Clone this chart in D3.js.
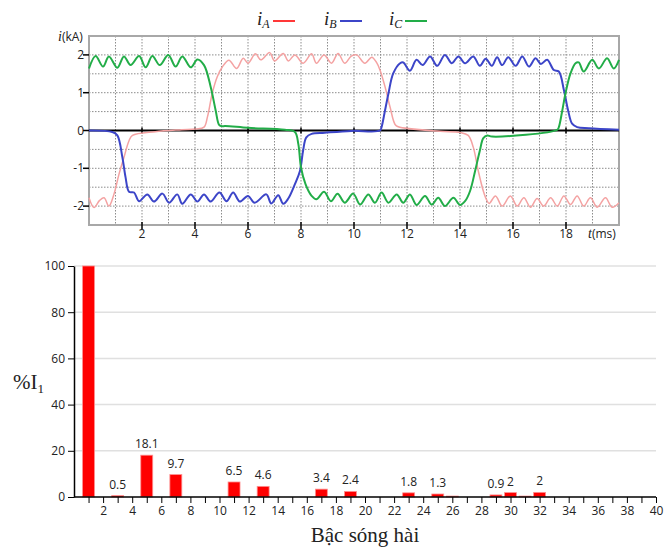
<!DOCTYPE html>
<meta charset="utf-8">
<style>
  body { margin: 0; background: #fff; }
  text { font-family: "Open Sans", sans-serif; fill: #222; }
  .serif { font-family: "Liberation Serif", "DejaVu Serif", serif; }
</style>
<svg width="665" height="547"></svg>
<script src="https://d3js.org/d3.v7.min.js"></script>
<script>

// phase currents, [t (ms), i (kA)]
var iA = [[0,-1.78],[0.19,-2.04],[0.4,-1.85],[0.57,-1.78],[0.75,-2.0],[0.94,-1.69],[1.13,-1.16],[1.32,-0.71],[1.51,-0.27],[1.64,-0.13],
  [2.5,-0.03],[3.5,0.02],[4.03,0.04],[4.34,0.09],[4.47,0.36],[4.65,0.98],[4.84,1.42],[5.03,1.68],[5.28,1.86],[5.57,1.64],
  [5.82,1.91],[6.0,1.78],[6.28,2.03],[6.48,1.87],[6.82,2.06],[7.0,1.84],[7.33,2.04],[7.52,1.84],[7.77,2.0],[8.08,1.78],
  [8.4,2.03],[8.58,1.78],[8.87,2.0],[9.15,1.78],[9.4,2.04],[9.65,1.78],[9.9,1.97],[10.1,2.0],[10.41,1.78],[10.67,1.94],
  [10.85,1.8],[10.98,1.6],[11.17,1.16],[11.36,0.62],[11.55,0.16],[11.67,0.1],[13.25,-0.02],[14.0,-0.05],[14.31,-0.13],
  [14.5,-0.44],[14.69,-1.07],[14.88,-1.6],[15.0,-1.83],[15.1,-1.93],[15.34,-1.73],[15.59,-2.0],[15.9,-1.73],[16.16,-2.0],
  [16.41,-1.78],[16.66,-2.03],[16.91,-1.8],[17.16,-2.0],[17.42,-1.78],[17.67,-2.0],[17.92,-1.73],[18.17,-1.96],[18.42,-1.73],
  [18.67,-2.0],[18.92,-1.78],[19.18,-2.03],[19.49,-1.78],[19.74,-2.03],[20,-1.91]];

var iB = [[0,0],[0.88,-0.04],[1.07,-0.13],[1.26,-0.71],[1.38,-1.24],[1.51,-1.62],[1.7,-1.64],[1.89,-1.87],[2.2,-1.69],[2.45,-1.88],
  [2.77,-1.67],[3.02,-1.91],[3.33,-1.69],[3.52,-1.94],[3.84,-1.69],[4.09,-1.88],[4.34,-1.69],[4.59,-1.88],[4.92,-1.64],[5.19,-1.87],
  [5.44,-1.64],[5.69,-1.88],[6.0,-1.73],[6.25,-1.91],[6.69,-1.69],[6.88,-1.93],[7.14,-1.71],[7.33,-1.94],[7.52,-1.8],[7.77,-1.42],
  [7.96,-1.07],[8.08,-0.53],[8.2,-0.18],[8.4,-0.09],[8.9,-0.06],[9.9,-0.01],[10.98,0],[11.04,0.09],[11.17,0.53],[11.3,0.98],
  [11.48,1.51],[11.74,1.78],[11.86,1.8],[12.11,1.58],[12.36,1.87],[12.59,1.73],[12.87,1.96],[13.14,1.71],[13.43,2.0],[13.69,1.78],
  [13.94,1.96],[14.19,1.78],[14.5,1.96],[14.75,1.71],[14.97,1.9],[15.2,1.71],[15.4,1.94],[15.59,1.73],[15.82,1.94],[16.1,1.71],
  [16.35,1.96],[16.6,1.69],[16.85,1.91],[17.05,1.76],[17.29,1.87],[17.54,1.6],[17.73,1.56],[17.92,1.07],[18.08,0.53],[18.23,0.18],
  [18.42,0.09],[18.86,0.06],[20,0.02]];

var iC = [[0,1.64],[0.25,1.97],[0.53,1.69],[0.75,1.96],[1.07,1.66],[1.32,1.96],[1.57,1.73],[1.89,1.97],[2.14,1.67],[2.39,1.97],
  [2.67,1.73],[2.99,2.0],[3.27,1.69],[3.52,1.96],[3.84,1.67],[4.09,1.88],[4.34,1.73],[4.59,1.16],[4.78,0.53],[4.91,0.15],
  [5.03,0.11],[5.13,0.12],[6.0,0.07],[7.39,0.02],[7.77,-0.04],[7.9,-0.36],[8.0,-0.98],[8.17,-1.42],[8.4,-1.73],[8.58,-1.82],
  [8.87,-1.62],[9.13,-1.87],[9.38,-1.67],[9.65,-1.91],[9.97,-1.67],[10.23,-1.96],[10.54,-1.69],[10.79,-1.91],[11.04,-1.64],
  [11.3,-1.91],[11.61,-1.69],[11.86,-1.91],[12.11,-1.69],[12.36,-1.97],[12.68,-1.73],[12.93,-1.96],[13.18,-1.78],[13.43,-2.0],
  [13.75,-1.78],[14.0,-1.97],[14.19,-1.87],[14.38,-1.6],[14.57,-1.07],[14.75,-0.53],[14.88,-0.2],[15.03,-0.13],[15.21,-0.16],
  [17.67,0.02],[17.73,0.09],[17.86,0.53],[17.98,0.98],[18.17,1.51],[18.36,1.78],[18.48,1.8],[18.67,1.56],[18.99,1.87],
  [19.24,1.64],[19.55,1.91],[19.8,1.64],[20,1.87]];

// harmonic spectrum
var orders = [1, 3, 5, 7, 11, 13, 17, 19, 23, 25, 26, 29, 30, 31, 32];
var percents = [100, 0.6, 18.1, 9.7, 6.5, 4.6, 3.4, 2.4, 1.8, 1.3, 0.4, 0.9, 1.9, 0.4, 2];
var barLabels = ["", "0.5", "18.1", "9.7", "6.5", "4.6", "3.4", "2.4", "1.8", "1.3", "", "0.9", "2", "", "2"];

var yTicksTop = [-2, -1, 0, 1, 2];
var xTicksTop = [2, 4, 6, 8, 10, 12, 14, 16, 18];
var yTicksBot = [0, 20, 40, 60, 80, 100];

var svg = d3.select("svg");

// ---------- top: waveforms ----------
var x = d3.scaleLinear().domain([0, 20]).range([89, 619]);
var y = d3.scaleLinear().domain([-2.5, 2.5]).range([225, 36]);

var gTop = svg.append("g");

gTop.append("g").selectAll("line")
  .data(d3.range(1, 20))
  .join("line")
    .attr("x1", x).attr("x2", x)
    .attr("y1", y(2.5)).attr("y2", y(-2.5))
    .attr("stroke", "#8c8c8c").attr("stroke-dasharray", "1.5,1.5");

gTop.append("g").selectAll("line")
  .data(d3.range(-2, 2.5, 0.5).filter(function(d) { return d != 0; }))
  .join("line")
    .attr("x1", x(0)).attr("x2", x(20))
    .attr("y1", y).attr("y2", y)
    .attr("stroke", "#8c8c8c").attr("stroke-dasharray", "1.5,1.5");

gTop.append("rect")
  .attr("x", x(0)).attr("y", y(2.5))
  .attr("width", x(20) - x(0)).attr("height", y(-2.5) - y(2.5))
  .attr("fill", "none").attr("stroke", "#a8a8a8").attr("stroke-width", 2);

// zero line with its small ticks
gTop.append("line")
  .attr("x1", x(0)).attr("x2", x(20)).attr("y1", y(0)).attr("y2", y(0))
  .attr("stroke", "#000").attr("stroke-width", 2);
gTop.append("g").selectAll("line")
  .data(xTicksTop)
  .join("line")
    .attr("x1", x).attr("x2", x)
    .attr("y1", y(0) - 3).attr("y2", y(0) + 3)
    .attr("stroke", "#000").attr("stroke-width", 1.5);

// left ticks + labels
gTop.append("g").selectAll("line")
  .data(yTicksTop)
  .join("line")
    .attr("x1", x(0) - 6).attr("x2", x(0))
    .attr("y1", y).attr("y2", y)
    .attr("stroke", "#000").attr("stroke-width", 1.5);
gTop.append("g").selectAll("text")
  .data(yTicksTop)
  .join("text")
    .attr("x", x(0) - 5).attr("y", function(d) { return y(d) + 4; })
    .attr("text-anchor", "end").attr("font-size", 12)
    .text(function(d) { return d; });

// bottom ticks + labels
gTop.append("g").selectAll("line")
  .data(xTicksTop)
  .join("line")
    .attr("x1", x).attr("x2", x)
    .attr("y1", y(-2.5) - 3).attr("y2", y(-2.5) + 4)
    .attr("stroke", "#000").attr("stroke-width", 1.5);
gTop.append("g").selectAll("text")
  .data(xTicksTop)
  .join("text")
    .attr("x", x).attr("y", 238)
    .attr("text-anchor", "middle").attr("font-size", 12)
    .text(function(d) { return d; });

var tl = gTop.append("text").attr("x", 588).attr("y", 238).attr("font-size", 12);
tl.append("tspan").attr("class", "serif").attr("font-style", "italic").attr("font-size", 14).text("t");
tl.append("tspan").text("(ms)");

var il = gTop.append("text").attr("x", 58).attr("y", 41).attr("font-size", 12);
il.append("tspan").attr("class", "serif").attr("font-style", "italic").attr("font-size", 14).text("i");
il.append("tspan").text("(kA)");

var line = d3.line()
  .x(function(d) { return x(d[0]); })
  .y(function(d) { return y(d[1]); })
  .curve(d3.curveCatmullRom.alpha(0.5));

var series = [
  { key: "A", data: iA, color: "#f4a2a2", legend: "#ff3838", width: 1.5, lx: 257 },
  { key: "B", data: iB, color: "#3c45c8", legend: "#3c45c8", width: 2, lx: 324 },
  { key: "C", data: iC, color: "#22ad48", legend: "#22ad48", width: 2, lx: 389 }
];

gTop.append("g").selectAll("path")
  .data(series)
  .join("path")
    .attr("d", function(d) { return line(d.data); })
    .attr("fill", "none")
    .attr("stroke", function(d) { return d.color; })
    .attr("stroke-width", function(d) { return d.width; })
    .attr("stroke-linejoin", "round");

var leg = gTop.append("g").selectAll("g")
  .data(series)
  .join("g")
    .attr("transform", function(d) { return "translate(" + d.lx + ",0)"; });
var lt = leg.append("text").attr("class", "serif").attr("y", 25).attr("font-style", "italic");
lt.append("tspan").attr("font-size", 19).text("i");
lt.append("tspan").attr("font-size", 12).attr("dy", 3).text(function(d) { return d.key; });
leg.append("line")
  .attr("x1", 16).attr("x2", 38).attr("y1", 21).attr("y2", 21)
  .attr("stroke", function(d) { return d.legend; }).attr("stroke-width", 2);

// ---------- bottom: harmonic spectrum ----------
var x2 = d3.scaleLinear().domain([0, 40]).range([74, 656]);
var y2 = d3.scaleLinear().domain([0, 100]).range([497, 266]);

var gBot = svg.append("g");

gBot.append("g").selectAll("line")
  .data(yTicksBot.slice(1))
  .join("line")
    .attr("x1", x2(0)).attr("x2", x2(40))
    .attr("y1", y2).attr("y2", y2)
    .attr("stroke", "#e0e0e0").attr("stroke-width", 1.5);

gBot.append("g").selectAll("rect")
  .data(orders)
  .join("rect")
    .attr("x", function(d) { return x2(d - 0.41); })
    .attr("width", x2(0.82) - x2(0))
    .attr("y", function(d, i) { return y2(percents[i]); })
    .attr("height", function(d, i) { return y2(0) - y2(percents[i]); })
    .attr("fill", "#ff0000")
    .attr("stroke", "#ff8f8f").attr("stroke-width", 0.8);

gBot.append("g").selectAll("text")
  .data(orders)
  .join("text")
    .attr("x", x2)
    .attr("y", function(d, i) { return y2(percents[i]) - 7; })
    .attr("text-anchor", "middle").attr("font-size", 12).attr("fill", "#333")
    .text(function(d, i) { return barLabels[i]; });

var xAxis = gBot.append("g")
  .attr("transform", "translate(0," + y2(0) + ")")
  .call(d3.axisBottom(x2).tickValues(d3.range(1, 41)).tickSize(6).tickSizeOuter(0)
    .tickFormat(function(d) { return d % 2 == 0 ? d : ""; }));
xAxis.select(".domain").attr("stroke", "#000").attr("stroke-width", 1.5).attr("d", "M" + x2(0) + ",0H" + x2(40));
xAxis.selectAll(".tick line").attr("stroke", "#000");
xAxis.selectAll("text").attr("font-size", 12).attr("fill", "#222").attr("font-family", null).attr("dy", "0.75em");

var yAxis = gBot.append("g")
  .attr("transform", "translate(" + x2(0) + ",0)")
  .call(d3.axisLeft(y2).tickValues(yTicksBot).tickSize(6).tickSizeOuter(0));
yAxis.select(".domain").attr("stroke", "#000").attr("stroke-width", 1.5);
yAxis.selectAll(".tick line").attr("stroke", "#000");
yAxis.selectAll("text").attr("font-size", 12).attr("fill", "#222").attr("font-family", null);

var yl = gBot.append("text").attr("class", "serif").attr("x", 13).attr("y", 389).attr("font-size", 21);
yl.append("tspan").text("%I");
yl.append("tspan").attr("font-size", 13).attr("dy", 4).text("1");

gBot.append("text").attr("class", "serif")
  .attr("x", 365).attr("y", 542).attr("text-anchor", "middle").attr("font-size", 21)
  .text("Bậc sóng hài");

</script>
